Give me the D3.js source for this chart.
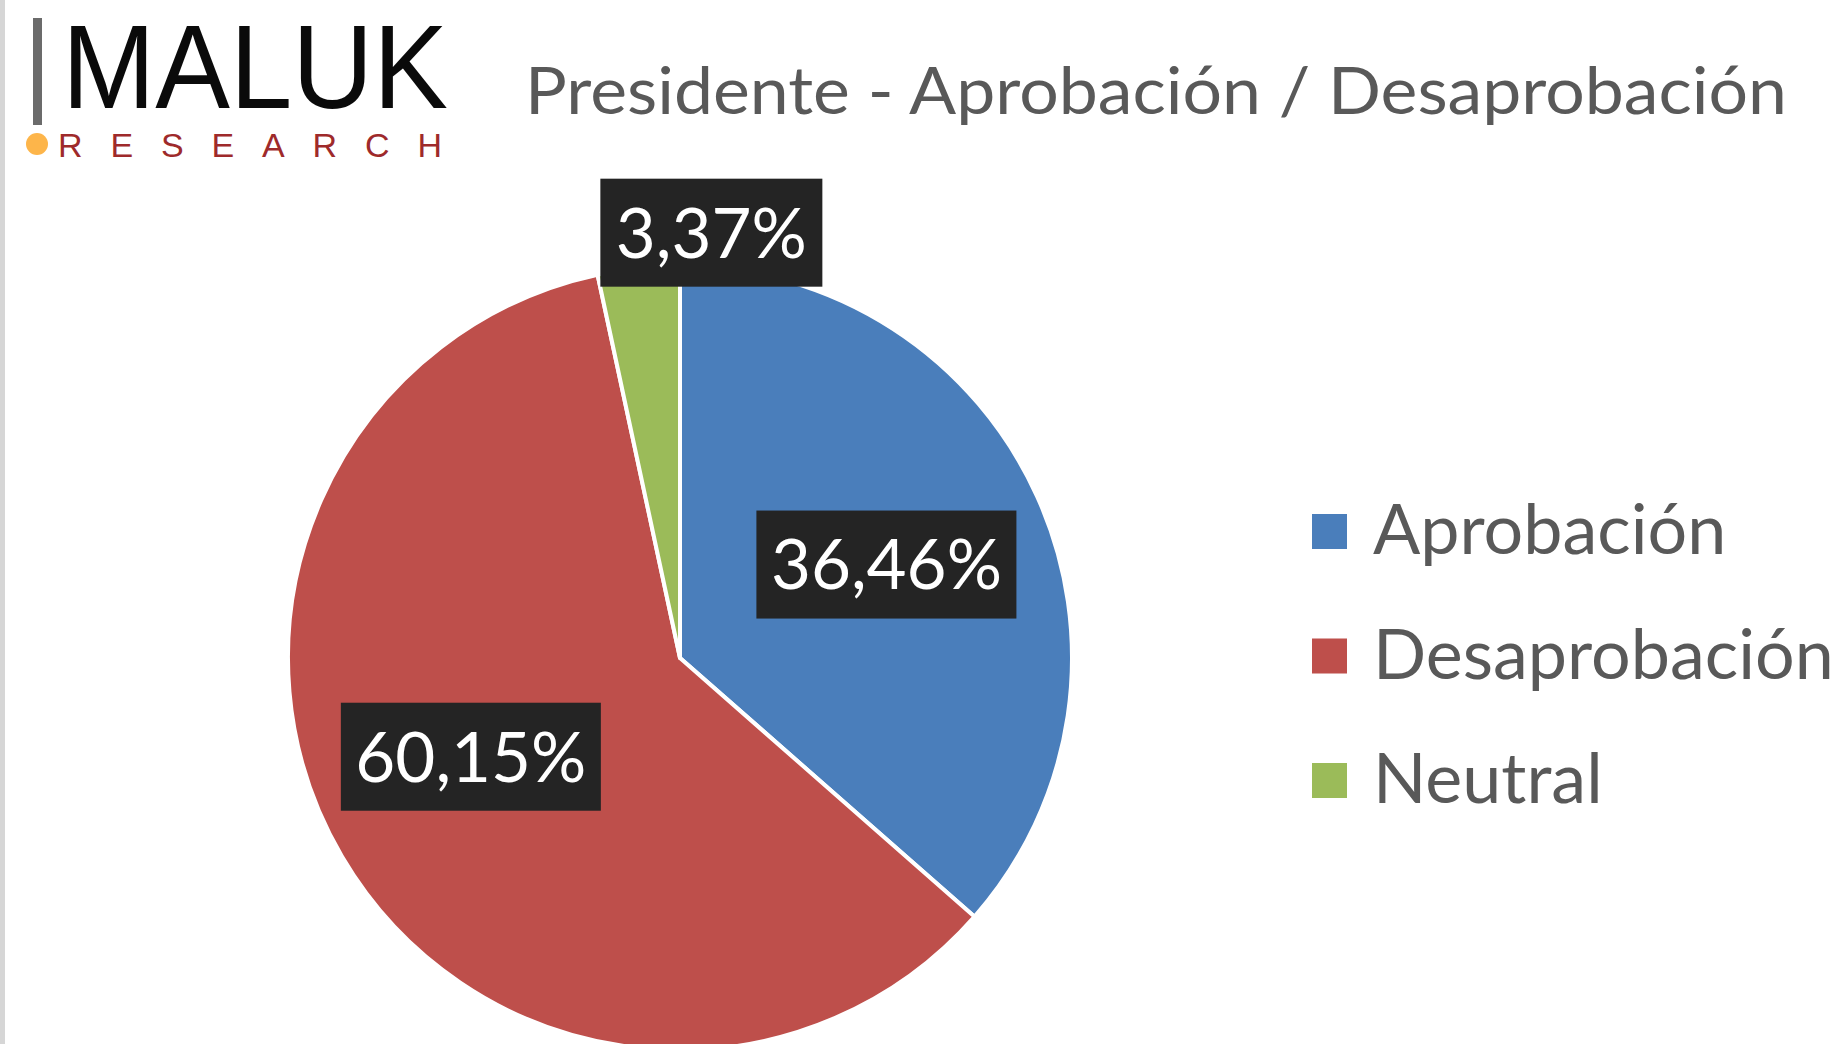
<!DOCTYPE html>
<html>
<head>
<meta charset="utf-8">
<script src="https://cdn.jsdelivr.net/npm/d3@7"></script>
<style>
  html, body { margin: 0; padding: 0; background: #ffffff; }
  svg { display: block; }
</style>
</head>
<body>
<svg id="chart" width="1843" height="1044"></svg>
<script>
// ---- data ----
const categories = ["Aprobación", "Desaprobación", "Neutral"];
const values = [36.46, 60.15, 3.37];
const colors = ["#4A7EBB", "#BE4F4B", "#9BBB59"];
const titleText = "Presidente - Aprobación / Desaprobación";
const logoMain = "MALUK";
const logoSub = "RESEARCH";

const fmt = v => d3.format(".2f")(v).replace(".", ",") + "%";

const W = 1843, H = 1044;
const svg = d3.select("#chart");

svg.append("rect").attr("x", 0).attr("y", 0).attr("width", W).attr("height", H).attr("fill", "#ffffff");
// left gray border
svg.append("rect").attr("x", 0).attr("y", 0).attr("width", 5).attr("height", H).attr("fill", "#d6d6d6");

// ---- logo ----
const logo = svg.append("g");
logo.append("rect").attr("x", 33).attr("y", 18).attr("width", 9).attr("height", 107).attr("fill", "#6b6b6b");
logo.append("text")
  .attr("x", 62).attr("y", 108)
  .attr("font-family", "Liberation Sans, Arial, sans-serif")
  .attr("font-size", 119)
  .attr("textLength", 386).attr("lengthAdjust", "spacingAndGlyphs")
  .attr("fill", "#0a0a0a")
  .text(logoMain);
logo.append("circle").attr("cx", 37).attr("cy", 144).attr("r", 11).attr("fill", "#FDB54A");
logo.append("text")
  .attr("x", 58).attr("y", 157)
  .attr("font-family", "Liberation Sans, Arial, sans-serif")
  .attr("font-size", 34)
  .attr("textLength", 384).attr("lengthAdjust", "spacing")
  .attr("fill", "#9E2A2B")
  .text(logoSub);

// ---- title ----
svg.append("text")
  .attr("x", 525).attr("y", 114)
  .attr("font-family", "Lato, 'Open Sans', sans-serif")
  .attr("font-size", 66)
  .attr("textLength", 1262).attr("lengthAdjust", "spacingAndGlyphs")
  .attr("fill", "#595959")
  .text(titleText);

// ---- pie ----
const cx = 680, cy = 658, r = 392;
const data = categories.map((c, i) => ({ name: c, value: values[i], color: colors[i] }));
const pie = d3.pie().value(d => d.value).sort(null).startAngle(0).endAngle(2 * Math.PI);
const arcs = pie(data);
const arc = d3.arc().innerRadius(0).outerRadius(r);

const g = svg.append("g").attr("transform", `translate(${cx},${cy})`);
g.selectAll("path.slice").data(arcs).enter().append("path")
  .attr("class", "slice")
  .attr("d", arc)
  .attr("fill", d => d.data.color)
  .attr("stroke", "#ffffff")
  .attr("stroke-width", 4)
  .attr("stroke-linejoin", "round");

// ---- labels (best-fit style) ----
const boxW = 260, boxH = 108, smallBoxW = 222;
function labelPos(d) {
  if (d.data.value < 5) {
    // small slice: label placed outside, above the pie top
    return [r * 0.08, -r * 1.085];
  }
  const mid = (d.startAngle + d.endAngle) / 2;
  const large = (d.endAngle - d.startAngle) > Math.PI;
  // large slices: shift the label slightly towards the horizontal centre line
  const a = mid + (large ? 0.09 : 0);
  const rr = r * (large ? 0.59 : 0.578);
  return [rr * Math.sin(a), -rr * Math.cos(a)];
}
const lg = g.selectAll("g.lbl").data(arcs).enter().append("g")
  .attr("class", "lbl")
  .attr("transform", d => { const p = labelPos(d); return `translate(${p[0]},${p[1]})`; });
lg.append("rect")
  .attr("x", d => -(d.data.value < 5 ? smallBoxW : boxW) / 2)
  .attr("y", -boxH / 2)
  .attr("width", d => d.data.value < 5 ? smallBoxW : boxW)
  .attr("height", boxH)
  .attr("fill", "#242424");
lg.append("text")
  .attr("text-anchor", "middle")
  .attr("dy", "0.36em")
  .attr("font-family", "Lato, 'Open Sans', sans-serif")
  .attr("font-size", 69)
  .attr("fill", "#ffffff")
  .text(d => fmt(d.data.value));

// ---- legend ----
const legend = svg.append("g").attr("transform", "translate(1312,514)");
const li = legend.selectAll("g").data(data).enter().append("g")
  .attr("transform", (d, i) => `translate(0,${i * 124.5})`);
li.append("rect").attr("width", 35).attr("height", 35).attr("fill", d => d.color);
li.append("text")
  .attr("x", 61).attr("y", 40)
  .attr("font-family", "Lato, 'Open Sans', sans-serif")
  .attr("font-size", 70)
  .attr("fill", "#595959")
  .text(d => d.name);
</script>
</body>
</html>
